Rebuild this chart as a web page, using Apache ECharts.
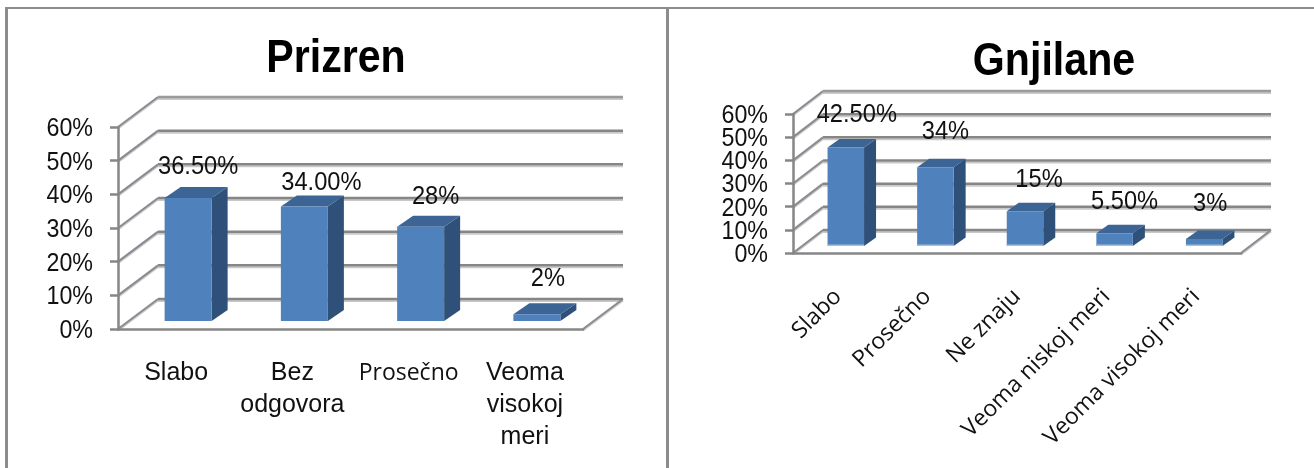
<!DOCTYPE html>
<html>
<head>
<meta charset="utf-8">
<script src="https://cdn.jsdelivr.net/npm/echarts@6/dist/echarts.min.js"></script>
<style>
  html, body { margin: 0; padding: 0; background: #fff; }
  #chart { width: 1314px; height: 468px; }
</style>
</head>
<body>
<div id="chart"></div>
<script>
const yTicks = [0, 10, 20, 30, 40, 50, 60]

const prizrenCategories = ['Slabo', 'Bez\nodgovora', 'Prosečno', 'Veoma\nvisokoj\nmeri']
const prizrenValues = [36.5, 34, 28, 2]
const prizrenLabels = ['36.50%', '34.00%', '28%', '2%']

const gnjilaneCategories = ['Slabo', 'Prosečno', 'Ne znaju', 'Veoma niskoj meri', 'Veoma visokoj meri']
const gnjilaneValues = [42.5, 34, 15, 5.5, 3]
const gnjilaneLabels = ['42.50%', '34%', '15%', '5.50%', '3%']

// hand placed data labels in the original, relative to the bar's top centre
const prizrenLabelShift = [[10, -31], [17, -24], [15, -30], [11, -35]]
const gnjilaneLabelShift = [[11, -33], [10, -35], [14, -31], [10, -31], [6, -35]]

const SANS = '"Liberation Sans", Arial, sans-serif'
const WIDE = '"Open Sans", sans-serif'
const GRID_COLOR = '#868686'
const GRID_SHADE = '#c9c9c9'
const DIAGONAL = '#8a8a92'

// wall and floor of the fake 3d box, one item per y tick.
// tick labels live here too: the native ones get dropped as overlapping on the short chart
function wallRenderer(depth) {
  return (params, api) => {
    const cs = params.coordSys
    const tick = api.value(1)
    const y = api.coord([0, tick])[1]
    const left = cs.x
    const right = cs.x + cs.width
    const line = (x1, y1, x2, y2, stroke, lineWidth) => ({
      type: 'line',
      shape: { x1, y1, x2, y2 },
      style: { stroke, lineWidth },
    })
    const children = [
      line(left, y + 1.5, left + depth.x, y + 1.5 + depth.y, GRID_SHADE, 2),
      line(left, y, left + depth.x, y + depth.y, DIAGONAL, 2),
      line(left + depth.x, y + depth.y + 2, right + depth.x, y + depth.y + 2, GRID_SHADE, 2),
      line(left + depth.x, y + depth.y, right + depth.x, y + depth.y, tick === 60 ? '#9a9a9a' : GRID_COLOR, 2.5),
      {
        type: 'text',
        x: left - 25,
        y: y + 2,
        scaleX: 0.93,
        style: { text: tick + '%', font: '25px ' + SANS, fill: '#111', align: 'right', verticalAlign: 'middle' },
      },
    ]
    if (tick === 0) {
      children.push(line(right, y + 1.5, right + depth.x, y + 1.5 + depth.y, GRID_SHADE, 2))
      children.push(line(right, y, right + depth.x, y + depth.y, DIAGONAL, 2))
    }
    return { type: 'group', children }
  }
}

function barRenderer(opts) {
  return (params, api) => {
    const i = api.value(0)
    const value = api.value(1)
    const base = api.coord([i, 0])
    const h = api.size([0, value])[1]
    const w = opts.width
    const x = base[0] + opts.shift.x - w / 2
    const bottom = base[1] + opts.shift.y
    const top = bottom - h
    const d = opts.depth
    const children = [
      {
        type: 'polygon',
        shape: { points: [[x + w, top], [x + w + d.x, top + d.y], [x + w + d.x, bottom + d.y], [x + w, bottom]] },
        style: { fill: '#2f5079' },
      },
      {
        type: 'polygon',
        shape: { points: [[x, top], [x + d.x, top + d.y], [x + w + d.x, top + d.y], [x + w, top]] },
        style: { fill: '#3c6494' },
      },
      { type: 'rect', shape: { x, y: top, width: w, height: h }, style: { fill: '#4f81bd' } },
    ]
    if (opts.baseLine) {
      children.push({ type: 'rect', shape: { x, y: bottom - 1.5, width: w, height: 1.5 }, style: { fill: '#a3bfe0' } })
    }
    return { type: 'group', children }
  }
}

function labelRenderer(opts, labels, shifts) {
  return (params, api) => {
    const i = api.value(0)
    const top = api.coord([i, api.value(1)])
    return {
      type: 'text',
      x: top[0] + opts.shift.x + shifts[i][0],
      y: top[1] + opts.shift.y + shifts[i][1],
      scaleX: 0.91,
      style: {
        text: labels[i],
        font: '26px ' + SANS,
        fill: '#111',
        align: 'center',
        verticalAlign: 'middle',
      },
    }
  }
}

function valueAxis(gridIndex) {
  return {
    type: 'value',
    gridIndex,
    min: 0,
    max: 60,
    interval: 10,
    z: 2,
    splitLine: { show: false },
    axisLine: { show: true, lineStyle: { color: GRID_COLOR, width: 2.5 } },
    axisTick: { show: true, length: 8, lineStyle: { color: GRID_COLOR, width: 2.5 } },
    axisLabel: { show: false },
  }
}

function categoryAxis(gridIndex, data, axisLabel) {
  return {
    type: 'category',
    gridIndex,
    data,
    z: 2,
    axisLine: { lineStyle: { color: GRID_COLOR, width: 2.5 } },
    axisTick: { length: 8, lineStyle: { color: GRID_COLOR, width: 2.5 } },
    axisLabel,
  }
}

function boxSeries(axisIndex, values, labels, shifts, opts) {
  const points = values.map((v, i) => [i, v])
  const common = { type: 'custom', xAxisIndex: axisIndex, yAxisIndex: axisIndex, clip: false, silent: true }
  return [
    { ...common, z: 1, data: yTicks.map((t) => [0, t]), renderItem: wallRenderer(opts.wall) },
    { ...common, z: 3, data: points, renderItem: barRenderer(opts) },
    { ...common, z: 4, data: points, renderItem: labelRenderer(opts, labels, shifts) },
  ]
}

function titleText(text, x, y) {
  return {
    type: 'text',
    x,
    y,
    scaleX: 0.875,
    style: {
      text,
      font: 'bold 47px ' + SANS,
      fill: '#000',
      align: 'center',
      verticalAlign: 'middle',
    },
  }
}

const prizrenOpts = {
  width: 47,
  shift: { x: 12, y: -8 },
  depth: { x: 16, y: -11 },
  wall: { x: 40, y: -30 },
}
const gnjilaneOpts = {
  width: 36.5,
  shift: { x: 8, y: -7 },
  depth: { x: 12, y: -8.5 },
  wall: { x: 30, y: -23 },
  baseLine: true,
}

const option = {
  animation: false,
  backgroundColor: '#fff',
  grid: [
    { left: 118, top: 127, width: 465, height: 202 },
    { left: 793, top: 114, width: 448, height: 139 },
  ],
  xAxis: [
    categoryAxis(
      0,
      prizrenCategories.map((c) =>
        c === 'Prosečno' ? { value: c, textStyle: { fontFamily: WIDE, fontSize: 23, lineHeight: 32 } } : c
      ),
      { margin: 28, interval: 0, fontFamily: SANS, fontSize: 25, lineHeight: 32, color: '#111' }
    ),
    categoryAxis(1, gnjilaneCategories, {
      margin: 40,
      interval: 0,
      rotate: 45,
      fontFamily: WIDE,
      fontSize: 23,
      color: '#111',
    }),
  ],
  yAxis: [valueAxis(0), valueAxis(1)],
  graphic: [
    // panel frame lines
    { type: 'rect', shape: { x: 5, y: 7, width: 1309, height: 2 }, style: { fill: '#8c8c8c' } },
    { type: 'rect', shape: { x: 5, y: 7, width: 3, height: 461 }, style: { fill: '#8c8c8c' } },
    { type: 'rect', shape: { x: 666, y: 7, width: 3, height: 461 }, style: { fill: '#8c8c8c' } },
    titleText('Prizren', 336, 59),
    titleText('Gnjilane', 1054, 62),
  ],
  series: [
    ...boxSeries(0, prizrenValues, prizrenLabels, prizrenLabelShift, prizrenOpts),
    ...boxSeries(1, gnjilaneValues, gnjilaneLabels, gnjilaneLabelShift, gnjilaneOpts),
  ],
}

const myChart = echarts.init(document.getElementById('chart'))
myChart.setOption(option)
</script>
</body>
</html>
